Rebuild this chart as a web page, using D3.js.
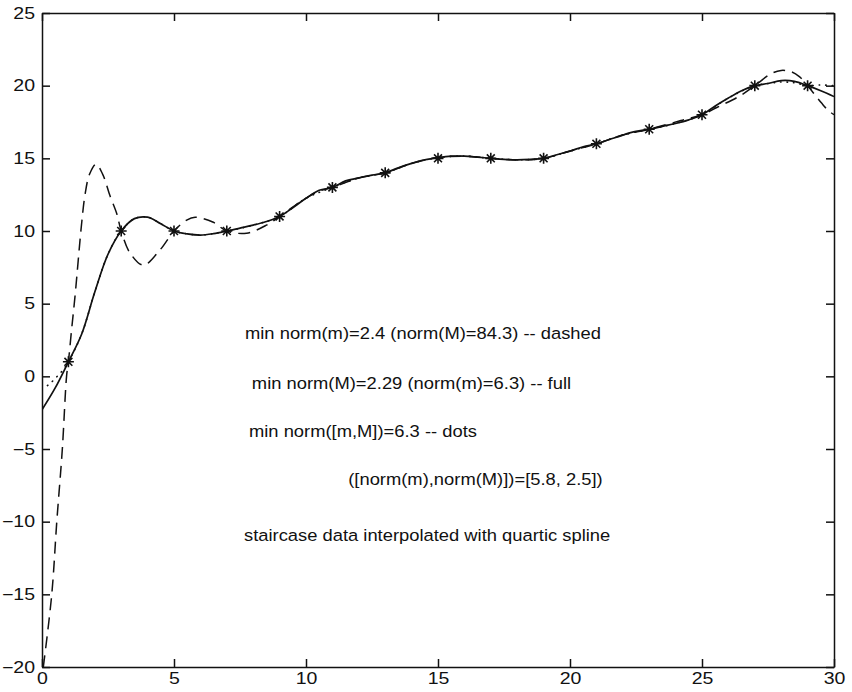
<!DOCTYPE html>
<meta charset="utf-8">
<head>
<script src="https://d3js.org/d3.v7.min.js"></script>
<style>
  body { margin: 0; background: #fff; }
  text { font-family: "Liberation Sans", Arial, sans-serif; fill: #111; }
</style>
</head>
<body>
<div id="my_dataviz"></div>
<script>

    // staircase data (asterisks)
    var stepX = [1, 3, 5, 7, 9, 11, 13, 15, 17, 19, 21, 23, 25, 27, 29];
    var stepY = [1, 10, 10, 10, 11, 13, 14, 15, 15, 15, 16, 17, 18, 20, 20];

    // full line
    var fullX = [0, 0.5, 1, 1.5, 2, 2.5, 3, 3.5, 4, 4.5, 5, 5.5, 6, 6.5, 7, 7.5, 8, 8.5, 9, 9.5,
                 10, 10.5, 11, 11.5, 12, 12.5, 13, 13.5, 14, 14.5, 15, 15.5, 16, 16.5, 17, 17.5, 18, 18.5, 19, 19.5,
                 20, 20.5, 21, 21.5, 22, 22.5, 23, 23.5, 24, 24.5, 25, 25.5, 26, 26.5, 27, 27.5, 28, 28.5, 29, 29.5, 30];
    var fullY = [-2.3, -0.8, 1.0, 2.9, 5.8, 8.4, 10.0, 10.85, 10.95, 10.5, 10.0, 9.8, 9.72, 9.82, 10.0, 10.2, 10.4, 10.65, 11.0, 11.6,
                 12.25, 12.8, 13.0, 13.45, 13.65, 13.85, 14.0, 14.35, 14.65, 14.9, 15.05, 15.15, 15.15, 15.08, 15.0, 14.93, 14.9, 14.93, 15.0, 15.25,
                 15.5, 15.8, 16.0, 16.3, 16.6, 16.85, 17.0, 17.2, 17.4, 17.65, 18.0, 18.6, 19.15, 19.65, 20.0, 20.15, 20.35, 20.3, 20.0, 19.65, 19.25];

    // dashed line
    var dashX = [0.05, 0.37, 0.56, 0.77, 0.93, 1.0, 1.12, 1.25, 1.5, 1.63, 1.8, 2.05, 2.3, 2.58, 2.83, 3.0, 3.33, 3.84, 4.47, 5.0,
                 5.48, 5.8, 6.49, 7.0, 7.75, 8.5, 9.0, 9.9, 10.5, 11, 12, 13, 14, 15, 16, 17, 18, 19, 20, 21, 22, 23, 24.2, 25,
                 25.56, 26.44, 27, 27.64, 28.0, 28.4, 28.7, 29, 29.53, 29.78, 30];
    var dashY = [-20, -15, -10, -5, 0, 1.0, 3.2, 5.5, 10.5, 12.5, 13.9, 14.6, 13.9, 12.4, 11.2, 10.0, 8.5, 7.65, 8.7, 10.0,
                 10.75, 10.95, 10.6, 10.0, 9.85, 10.4, 11.0, 12.15, 12.75, 13.0, 13.65, 14.0, 14.65, 15.05, 15.15, 15.0, 14.9, 15.0, 15.5, 16.0, 16.6, 17.0, 17.6, 18.0,
                 18.5, 19.3, 20.0, 20.85, 21.05, 20.95, 20.6, 20.0, 18.8, 18.3, 18.0];

    // dotted line (on top of the full one except at both ends)
    var dotX = [0, 0.3, 0.55, 0.8, 1, 1.5, 2, 2.5, 3, 3.5, 4, 4.5, 5, 5.5, 6, 6.5, 7, 8, 9, 10, 11, 12, 13, 14, 15, 16, 17, 18, 19,
                20, 21, 22, 23, 24, 25, 26, 27, 27.5, 28, 28.5, 29, 29.5, 30];
    var dotY = [-0.9, -0.5, -0.05, 0.45, 1.0, 2.9, 5.8, 8.4, 10.0, 10.85, 10.95, 10.5, 10.0, 9.8, 9.72, 9.82, 10.0, 10.4, 11.0, 12.25, 13.0, 13.65, 14.0, 14.65, 15.05, 15.15, 15.0, 14.9, 15.0,
                15.5, 16.0, 16.6, 17.0, 17.4, 18.0, 19.15, 20.0, 20.15, 20.25, 20.2, 20.0, 20.05, 20.0];

    var xTicks = [0, 5, 10, 15, 20, 25, 30];
    var yTicks = [-20, -15, -10, -5, 0, 5, 10, 15, 20, 25];

    var notes = ["min norm(m)=2.4 (norm(M)=84.3) -- dashed",
                 "min norm(M)=2.29 (norm(m)=6.3) -- full",
                 "min norm([m,M])=6.3 -- dots",
                 "([norm(m),norm(M)])=[5.8, 2.5])",
                 "staircase data interpolated with quartic spline"];
    var noteX = [7.69, 7.95, 7.84, 11.6, 7.65];
    var noteY = [2.95, -0.45, -3.75, -7.05, -10.9];

    // set the dimensions and margins of the graph
    var margin = {top: 13, right: 18, bottom: 25, left: 42},
        width = 852 - margin.left - margin.right,
        height = 692 - margin.top - margin.bottom;

    var svg = d3.select("#my_dataviz")
      .append("svg")
        .attr("width", width + margin.left + margin.right)
        .attr("height", height + margin.top + margin.bottom)
      .append("g")
        .attr("transform", "translate(" + margin.left + "," + margin.top + ")");

    var x = d3.scaleLinear().domain([0, 30]).range([0, width]);
    var y = d3.scaleLinear().domain([-20, 25]).range([height, 0]);

    var stretch = 1.22;

    // axes with inward ticks, box all round
    var bottom = svg.append("g")
      .attr("transform", "translate(0," + height + ")")
      .call(d3.axisBottom(x).tickValues(xTicks).tickSize(-8).tickSizeOuter(0).tickPadding(6));
    bottom.selectAll("text").attr("transform", "scale(" + stretch + ",1)");

    var left = svg.append("g")
      .call(d3.axisLeft(y).tickValues(yTicks).tickSize(-8).tickSizeOuter(0).tickPadding(7));
    left.selectAll("text").attr("x", -7 / stretch).attr("transform", "scale(" + stretch + ",1)");

    svg.append("g")
      .call(d3.axisTop(x).tickValues(xTicks).tickSize(-8).tickSizeOuter(0).tickFormat(""));
    svg.append("g")
      .attr("transform", "translate(" + width + ",0)")
      .call(d3.axisRight(y).tickValues(yTicks).tickSize(-8).tickSizeOuter(0).tickFormat(""));

    svg.selectAll(".domain, .tick line").attr("stroke", "#111").attr("stroke-width", 1.5);
    svg.selectAll(".tick text").style("font-size", "16px").style("font-family", "'Liberation Sans', Arial, sans-serif").attr("fill", "#111");

    svg.append("defs").append("clipPath").attr("id", "clip")
      .append("rect").attr("width", width).attr("height", height);

    var line = d3.line()
      .x(function (d) { return x(d[0]); })
      .y(function (d) { return y(d[1]); })
      .curve(d3.curveCatmullRom.alpha(0.5));

    var plot = svg.append("g").attr("clip-path", "url(#clip)");

    plot.append("path")
      .datum(d3.zip(dotX, dotY))
      .attr("d", line)
      .attr("fill", "none")
      .attr("stroke", "#111")
      .attr("stroke-width", 1.6)
      .attr("stroke-linecap", "round")
      .attr("stroke-dasharray", "0.5,6");

    plot.append("path")
      .datum(d3.zip(dashX, dashY))
      .attr("d", line)
      .attr("fill", "none")
      .attr("stroke", "#111")
      .attr("stroke-width", 1.5)
      .attr("stroke-dasharray", "12,7");

    plot.append("path")
      .datum(d3.zip(fullX, fullY))
      .attr("d", line)
      .attr("fill", "none")
      .attr("stroke", "#111")
      .attr("stroke-width", 1.7);

    // asterisk markers
    var r = 5.5, k = r * 0.72;
    var star = "M" + (-r) + ",0L" + r + ",0M0," + (-r) + "L0," + r +
               "M" + (-k) + "," + (-k) + "L" + k + "," + k + "M" + (-k) + "," + k + "L" + k + "," + (-k);
    svg.append("g")
      .selectAll("path")
      .data(d3.zip(stepX, stepY))
      .enter()
      .append("path")
        .attr("transform", function (d) { return "translate(" + x(d[0]) + "," + y(d[1]) + ")"; })
        .attr("d", star)
        .attr("stroke", "#111")
        .attr("stroke-width", 1.6);

    // annotations
    svg.append("g")
      .selectAll("text")
      .data(notes)
      .enter()
      .append("text")
        .attr("x", function (d, i) { return x(noteX[i]); })
        .attr("y", function (d, i) { return y(noteY[i]); })
        .attr("dy", "0.35em")
        .style("font-size", "17px")
        .attr("transform", function (d, i) {
          var px = x(noteX[i]);
          return "translate(" + px + ",0) scale(1.08,1) translate(" + (-px) + ",0)";
        })
        .text(function (d) { return d; });

</script>
</body>
</html>
